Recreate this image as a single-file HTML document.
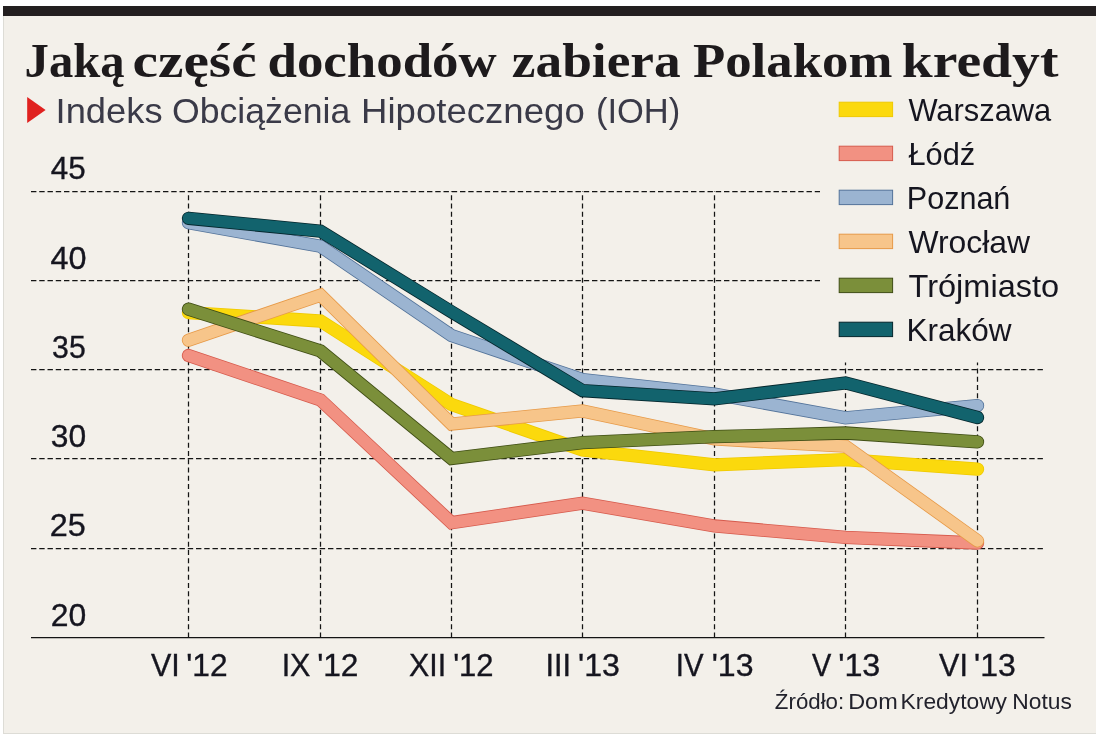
<!DOCTYPE html>
<html lang="pl"><head><meta charset="utf-8"><title>Jaką część dochodów zabiera Polakom kredyt</title>
<style>html,body{margin:0;padding:0;background:#fff}body{width:1097px;height:735px;overflow:hidden}svg{display:block}text{font-family:"Liberation Sans",sans-serif}.t{font-family:"Liberation Serif",serif;font-weight:bold}</style></head><body>
<svg width="1097" height="735" viewBox="0 0 1097 735">
<rect x="0" y="0" width="1097" height="735" fill="#ffffff"/>
<rect x="3" y="16" width="1093" height="718" fill="#dddcd6"/>
<rect x="4" y="16" width="1092" height="717" fill="#f3f0ea"/>
<rect x="3" y="6" width="1093" height="10" fill="#231f20"/>
<polygon points="27.2,97 45.6,110 27.2,123" fill="#e0211f"/>
<line x1="31" y1="191.5" x2="1044.5" y2="191.5" stroke="#141414" stroke-width="1.25" stroke-dasharray="5.4 2.85"/>
<line x1="31" y1="280.5" x2="1044.5" y2="280.5" stroke="#141414" stroke-width="1.25" stroke-dasharray="5.4 2.85"/>
<line x1="31" y1="369.5" x2="1044.5" y2="369.5" stroke="#141414" stroke-width="1.25" stroke-dasharray="5.4 2.85"/>
<line x1="31" y1="458.5" x2="1044.5" y2="458.5" stroke="#141414" stroke-width="1.25" stroke-dasharray="5.4 2.85"/>
<line x1="31" y1="548.5" x2="1044.5" y2="548.5" stroke="#141414" stroke-width="1.25" stroke-dasharray="5.4 2.85"/>
<line x1="188.5" y1="637.5" x2="188.5" y2="191.5" stroke="#141414" stroke-width="1.25" stroke-dasharray="5.1 3.15"/>
<line x1="320.5" y1="637.5" x2="320.5" y2="191.5" stroke="#141414" stroke-width="1.25" stroke-dasharray="5.1 3.15"/>
<line x1="451.5" y1="637.5" x2="451.5" y2="191.5" stroke="#141414" stroke-width="1.25" stroke-dasharray="5.1 3.15"/>
<line x1="582.5" y1="637.5" x2="582.5" y2="191.5" stroke="#141414" stroke-width="1.25" stroke-dasharray="5.1 3.15"/>
<line x1="714.5" y1="637.5" x2="714.5" y2="191.5" stroke="#141414" stroke-width="1.25" stroke-dasharray="5.1 3.15"/>
<line x1="845.5" y1="637.5" x2="845.5" y2="191.5" stroke="#141414" stroke-width="1.25" stroke-dasharray="5.1 3.15"/>
<line x1="977.5" y1="637.5" x2="977.5" y2="191.5" stroke="#141414" stroke-width="1.25" stroke-dasharray="5.1 3.15"/>
<rect x="820" y="90" width="276" height="272.5" fill="#f3f0ea"/>
<line x1="31" y1="637.5" x2="1044.5" y2="637.5" stroke="#141414" stroke-width="1.25"/>
<polyline points="188.5,312.6 320.5,321.0 451.5,404.5 582.5,450.0 714.5,464.8 845.5,459.6 977.5,469.2" fill="none" stroke="#efc900" stroke-width="13.3" stroke-linecap="round" stroke-linejoin="miter" stroke-miterlimit="10"/>
<polyline points="188.5,312.6 320.5,321.0 451.5,404.5 582.5,450.0 714.5,464.8 845.5,459.6 977.5,469.2" fill="none" stroke="#fbd90d" stroke-width="11.7" stroke-linecap="round" stroke-linejoin="miter" stroke-miterlimit="10"/>
<polyline points="188.5,355.5 320.5,400.0 451.5,522.7 582.5,503.2 714.5,526.0 845.5,537.3 977.5,543.0" fill="none" stroke="#d65a4c" stroke-width="13.3" stroke-linecap="round" stroke-linejoin="miter" stroke-miterlimit="10"/>
<polyline points="188.5,355.5 320.5,400.0 451.5,522.7 582.5,503.2 714.5,526.0 845.5,537.3 977.5,543.0" fill="none" stroke="#f29182" stroke-width="11.7" stroke-linecap="round" stroke-linejoin="miter" stroke-miterlimit="10"/>
<polyline points="188.5,222.7 320.5,246.3 451.5,335.5 582.5,379.5 714.5,394.0 845.5,417.8 977.5,405.6" fill="none" stroke="#53739a" stroke-width="13.3" stroke-linecap="round" stroke-linejoin="miter" stroke-miterlimit="10"/>
<polyline points="188.5,222.7 320.5,246.3 451.5,335.5 582.5,379.5 714.5,394.0 845.5,417.8 977.5,405.6" fill="none" stroke="#9bb4d1" stroke-width="11.7" stroke-linecap="round" stroke-linejoin="miter" stroke-miterlimit="10"/>
<polyline points="188.5,340.2 320.5,295.1 451.5,424.0 582.5,411.0 714.5,439.0 845.5,446.2 977.5,540.8" fill="none" stroke="#e79a48" stroke-width="13.3" stroke-linecap="round" stroke-linejoin="miter" stroke-miterlimit="10"/>
<polyline points="188.5,340.2 320.5,295.1 451.5,424.0 582.5,411.0 714.5,439.0 845.5,446.2 977.5,540.8" fill="none" stroke="#f7c58a" stroke-width="11.7" stroke-linecap="round" stroke-linejoin="miter" stroke-miterlimit="10"/>
<polyline points="188.5,309.2 320.5,351.0 451.5,458.5 582.5,442.6 714.5,436.7 845.5,433.0 977.5,441.8" fill="none" stroke="#3f4d14" stroke-width="13.3" stroke-linecap="round" stroke-linejoin="miter" stroke-miterlimit="10"/>
<polyline points="188.5,309.2 320.5,351.0 451.5,458.5 582.5,442.6 714.5,436.7 845.5,433.0 977.5,441.8" fill="none" stroke="#7b8f3a" stroke-width="11.7" stroke-linecap="round" stroke-linejoin="miter" stroke-miterlimit="10"/>
<polyline points="188.5,218.3 320.5,231.2 451.5,311.8 582.5,390.6 714.5,398.8 845.5,382.9 977.5,417.5" fill="none" stroke="#04262c" stroke-width="13.3" stroke-linecap="round" stroke-linejoin="miter" stroke-miterlimit="10"/>
<polyline points="188.5,218.3 320.5,231.2 451.5,311.8 582.5,390.6 714.5,398.8 845.5,382.9 977.5,417.5" fill="none" stroke="#12636d" stroke-width="11.7" stroke-linecap="round" stroke-linejoin="miter" stroke-miterlimit="10"/>
<rect x="839.2" y="102.2" width="53.4" height="14.4" fill="#fbd90d" stroke="#efc900" stroke-width="1"/>
<rect x="839.2" y="146.2" width="53.4" height="14.4" fill="#f29182" stroke="#d65a4c" stroke-width="1"/>
<rect x="839.2" y="190.2" width="53.4" height="14.4" fill="#9bb4d1" stroke="#53739a" stroke-width="1"/>
<rect x="839.2" y="234.2" width="53.4" height="14.4" fill="#f7c58a" stroke="#e79a48" stroke-width="1"/>
<rect x="839.2" y="278.2" width="53.4" height="14.4" fill="#7b8f3a" stroke="#3f4d14" stroke-width="1"/>
<rect x="839.2" y="322.2" width="53.4" height="14.4" fill="#12636d" stroke="#04262c" stroke-width="1"/>
<text class="t" x="24.55" y="76.7" font-size="47.5" textLength="100.14" lengthAdjust="spacingAndGlyphs" fill="#1d1a1c">Jaką</text>
<text class="t" x="132.49" y="76.7" font-size="47.5" textLength="124.11" lengthAdjust="spacingAndGlyphs" fill="#1d1a1c">część</text>
<text class="t" x="267.47" y="76.7" font-size="47.5" textLength="229.20" lengthAdjust="spacingAndGlyphs" fill="#1d1a1c">dochodów</text>
<text class="t" x="511.88" y="76.7" font-size="47.5" textLength="168.84" lengthAdjust="spacingAndGlyphs" fill="#1d1a1c">zabiera</text>
<text class="t" x="692.99" y="76.7" font-size="47.5" textLength="199.41" lengthAdjust="spacingAndGlyphs" fill="#1d1a1c">Polakom</text>
<text class="t" x="901.73" y="76.7" font-size="47.5" textLength="156.74" lengthAdjust="spacingAndGlyphs" fill="#1d1a1c">kredyt</text>
<text x="55.59" y="122.5" font-size="35" textLength="106.98" lengthAdjust="spacingAndGlyphs" fill="#3a3a48">Indeks</text>
<text x="171.96" y="122.5" font-size="35" textLength="178.35" lengthAdjust="spacingAndGlyphs" fill="#3a3a48">Obciążenia</text>
<text x="361.07" y="122.5" font-size="35" textLength="223.67" lengthAdjust="spacingAndGlyphs" fill="#3a3a48">Hipotecznego</text>
<text x="595.93" y="122.5" font-size="35" textLength="84.39" lengthAdjust="spacingAndGlyphs" fill="#3a3a48">(IOH)</text>
<text x="50.89" y="178.5" font-size="31" textLength="34.92" lengthAdjust="spacingAndGlyphs" fill="#15151f" stroke="#15151f" stroke-width="0.35">45</text>
<text x="50.46" y="268.8" font-size="31" textLength="35.99" lengthAdjust="spacingAndGlyphs" fill="#15151f" stroke="#15151f" stroke-width="0.35">40</text>
<text x="52.12" y="357.5" font-size="31" textLength="33.62" lengthAdjust="spacingAndGlyphs" fill="#15151f" stroke="#15151f" stroke-width="0.35">35</text>
<text x="50.88" y="447.0" font-size="31" textLength="35.35" lengthAdjust="spacingAndGlyphs" fill="#15151f" stroke="#15151f" stroke-width="0.35">30</text>
<text x="49.81" y="535.5" font-size="31" textLength="36.04" lengthAdjust="spacingAndGlyphs" fill="#15151f" stroke="#15151f" stroke-width="0.35">25</text>
<text x="50.74" y="625.5" font-size="31" textLength="35.49" lengthAdjust="spacingAndGlyphs" fill="#15151f" stroke="#15151f" stroke-width="0.35">20</text>
<text x="150.90" y="675.6" font-size="31" textLength="28.85" lengthAdjust="spacingAndGlyphs" fill="#15151f" stroke="#15151f" stroke-width="0.35">VI</text>
<text x="186.26" y="675.6" font-size="31" textLength="41.28" lengthAdjust="spacingAndGlyphs" fill="#15151f" stroke="#15151f" stroke-width="0.35">&#39;12</text>
<text x="281.65" y="675.6" font-size="31" textLength="28.83" lengthAdjust="spacingAndGlyphs" fill="#15151f" stroke="#15151f" stroke-width="0.35">IX</text>
<text x="317.15" y="675.6" font-size="31" textLength="41.33" lengthAdjust="spacingAndGlyphs" fill="#15151f" stroke="#15151f" stroke-width="0.35">&#39;12</text>
<text x="409.02" y="675.6" font-size="31" textLength="37.13" lengthAdjust="spacingAndGlyphs" fill="#15151f" stroke="#15151f" stroke-width="0.35">XII</text>
<text x="453.15" y="675.6" font-size="31" textLength="40.35" lengthAdjust="spacingAndGlyphs" fill="#15151f" stroke="#15151f" stroke-width="0.35">&#39;12</text>
<text x="545.53" y="675.6" font-size="31" textLength="25.59" lengthAdjust="spacingAndGlyphs" fill="#15151f" stroke="#15151f" stroke-width="0.35">III</text>
<text x="578.03" y="675.6" font-size="31" textLength="41.83" lengthAdjust="spacingAndGlyphs" fill="#15151f" stroke="#15151f" stroke-width="0.35">&#39;13</text>
<text x="675.86" y="675.6" font-size="31" textLength="27.72" lengthAdjust="spacingAndGlyphs" fill="#15151f" stroke="#15151f" stroke-width="0.35">IV</text>
<text x="711.73" y="675.6" font-size="31" textLength="41.77" lengthAdjust="spacingAndGlyphs" fill="#15151f" stroke="#15151f" stroke-width="0.35">&#39;13</text>
<text x="811.90" y="675.6" font-size="31" textLength="19.29" lengthAdjust="spacingAndGlyphs" fill="#15151f" stroke="#15151f" stroke-width="0.35">V</text>
<text x="838.21" y="675.6" font-size="31" textLength="42.15" lengthAdjust="spacingAndGlyphs" fill="#15151f" stroke="#15151f" stroke-width="0.35">&#39;13</text>
<text x="939.10" y="675.6" font-size="31" textLength="28.79" lengthAdjust="spacingAndGlyphs" fill="#15151f" stroke="#15151f" stroke-width="0.35">VI</text>
<text x="974.14" y="675.6" font-size="31" textLength="41.61" lengthAdjust="spacingAndGlyphs" fill="#15151f" stroke="#15151f" stroke-width="0.35">&#39;13</text>
<text x="774.88" y="708.7" font-size="21.8" textLength="69.30" lengthAdjust="spacingAndGlyphs" fill="#22222c">Źródło:</text>
<text x="848.15" y="708.7" font-size="21.8" textLength="49.54" lengthAdjust="spacingAndGlyphs" fill="#22222c">Dom</text>
<text x="900.61" y="708.7" font-size="21.8" textLength="106.39" lengthAdjust="spacingAndGlyphs" fill="#22222c">Kredytowy</text>
<text x="1012.31" y="708.7" font-size="21.8" textLength="59.59" lengthAdjust="spacingAndGlyphs" fill="#22222c">Notus</text>
<text x="908.40" y="120.8" font-size="30.5" textLength="142.84" lengthAdjust="spacingAndGlyphs" fill="#15151f">Warszawa</text>
<text x="908.40" y="164.8" font-size="30.5" textLength="66.75" lengthAdjust="spacingAndGlyphs" fill="#15151f">Łódź</text>
<text x="906.80" y="208.8" font-size="30.5" textLength="103.56" lengthAdjust="spacingAndGlyphs" fill="#15151f">Poznań</text>
<text x="908.40" y="252.8" font-size="30.5" textLength="121.59" lengthAdjust="spacingAndGlyphs" fill="#15151f">Wrocław</text>
<text x="908.53" y="296.8" font-size="30.5" textLength="150.68" lengthAdjust="spacingAndGlyphs" fill="#15151f">Trójmiasto</text>
<text x="906.50" y="340.8" font-size="30.5" textLength="105.09" lengthAdjust="spacingAndGlyphs" fill="#15151f">Kraków</text>
</svg></body></html>
